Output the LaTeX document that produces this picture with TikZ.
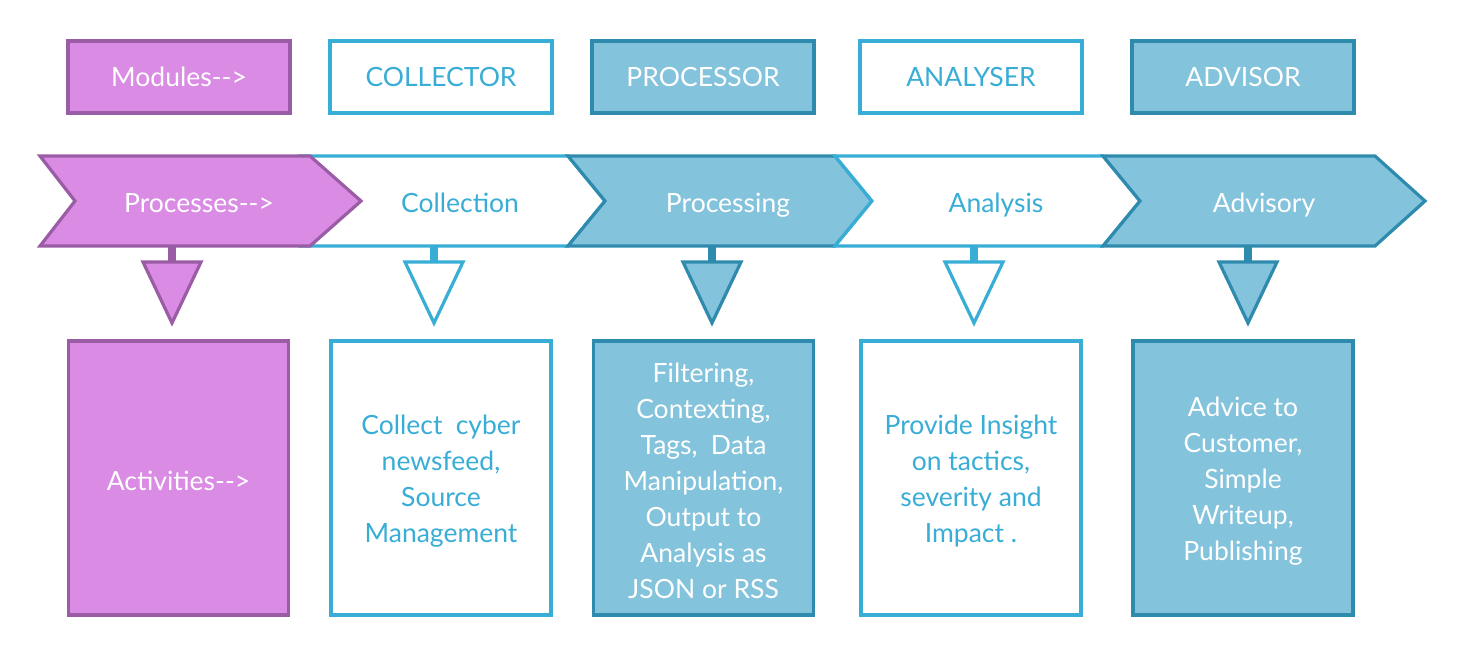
\documentclass[tikz,border=0pt]{standalone}
\usepackage{fontspec}
\setmainfont{Lato}
\definecolor{pfill}{HTML}{DA8BE4}
\definecolor{pline}{HTML}{9B5CA6}
\definecolor{lblue}{HTML}{38ADD6}
\definecolor{bfill}{HTML}{84C3DC}
\definecolor{bline}{HTML}{2F8BAE}
\newcommand{\arr}{-{}-{}>}
\begin{document}
\begin{tikzpicture}[x=1pt,y=-1pt,line width=3.2pt,line join=miter,
  purp/.style={draw=pline,fill=pfill,text=white},
  wht/.style={draw=lblue,fill=white,text=lblue},
  blu/.style={draw=bline,fill=bfill,text=white},
  modbox/.style={rectangle,minimum width=222pt,minimum height=72pt,font=\fontsize{26.5}{36}\selectfont,inner sep=0pt,text height=19pt,text depth=0pt},
  actbox/.style={rectangle,minimum width=220pt,minimum height=274pt,inner sep=0pt},
  acttxt/.style={font=\fontsize{26.5}{36}\selectfont,align=center,inner sep=0pt},
  lbl/.style={font=\fontsize{26.5}{36}\selectfont,inner sep=0pt,anchor=base}]
\useasboundingbox (0,0) rectangle (1464,657);
% top module boxes
\node[modbox,purp] (m1) at (179,77) {Modules\arr};
\node[modbox,wht]  (m2) at (441,77) {COLLECTOR};
\node[modbox,blu]  (m3) at (703,77) {PROCESSOR};
\node[modbox,wht]  (m4) at (971,77) {ANALYSER};
\node[modbox,blu]  (m5) at (1243,77) {ADVISOR};
% chevrons
\def\ct{156}\def\cm{201}\def\cb{246}
\path[draw=lblue,fill=white] (300,\ct) -- (568,\ct) -- (605,\cm) -- (568,\cb) -- (300,\cb) -- cycle;
\path[draw=pline,fill=pfill] (40,\ct) -- (310,\ct) -- (361,\cm) -- (310,\cb) -- (40,\cb) -- (75,\cm) -- cycle;
\path[draw=bline,fill=bfill] (568,\ct) -- (835,\ct) -- (872,\cm) -- (835,\cb) -- (568,\cb) -- (605,\cm) -- cycle;
\path[draw=lblue,fill=white] (835,\ct) -- (1103,\ct) -- (1140,\cm) -- (1103,\cb) -- (835,\cb) -- (872,\cm) -- cycle;
\path[draw=bline,fill=bfill] (1103,\ct) -- (1375,\ct) -- (1425,\cm) -- (1375,\cb) -- (1103,\cb) -- (1140,\cm) -- cycle;
\node[lbl,text=white] (c1) at (199,212) {Processes\arr};
\node[lbl,text=lblue] (c2) at (460,212) {Collection};
\node[lbl,text=white] (c3) at (728,212) {Processing};
\node[lbl,text=lblue] (c4) at (996,212) {Analysis};
\node[lbl,text=white] (c5) at (1264,212) {Advisory};
% activity boxes
\node[actbox,purp] (a1) at (178.5,478) {};
\node[actbox,wht]  (a2) at (441,478) {};
\node[actbox,blu]  (a3) at (703.5,478) {};
\node[actbox,wht]  (a4) at (971,478) {};
\node[actbox,blu]  (a5) at (1243,478) {};
\node[acttxt,text=white] (x1) at ([yshift=-3pt]a1.center) {Activities\arr};
\node[acttxt,text=lblue] (x2) at ([yshift=-3pt]a2.center) {Collect\enspace cyber\\newsfeed,\\Source\\Management};
\node[acttxt,text=white] (x3) at ([yshift=-3pt]a3.center) {Filtering,\\Contexting,\\Tags,\enspace Data\\Manipulation,\\Output to\\Analysis as\\JSON or RSS};
\node[acttxt,text=lblue] (x4) at ([yshift=-3pt]a4.center) {Provide Insight\\on tactics,\\severity and\\Impact .};
\node[acttxt,text=white] (x5) at ([yshift=-3pt]a5.center) {Advice to\\Customer,\\Simple\\Writeup,\\Publishing};
% down arrows
\foreach \x/\n in {172/1,434/2,712/3,974/4,1248/5}{
  \coordinate (s\n) at (\x,\cb);
  \coordinate (t\n) at (\x,262);
  \coordinate (p\n) at (\x,323);
}
\foreach \n/\dc/\fc in {1/pline/pfill,2/lblue/white,3/bline/bfill,4/lblue/white,5/bline/bfill}{
  \draw[\dc,line width=8pt,line cap=butt] (s\n) -- (t\n);
  \path[draw=\dc,fill=\fc] ([xshift=-29pt]t\n) -- ([xshift=29pt]t\n) -- (p\n) -- cycle;
}
\end{tikzpicture}
\end{document}
